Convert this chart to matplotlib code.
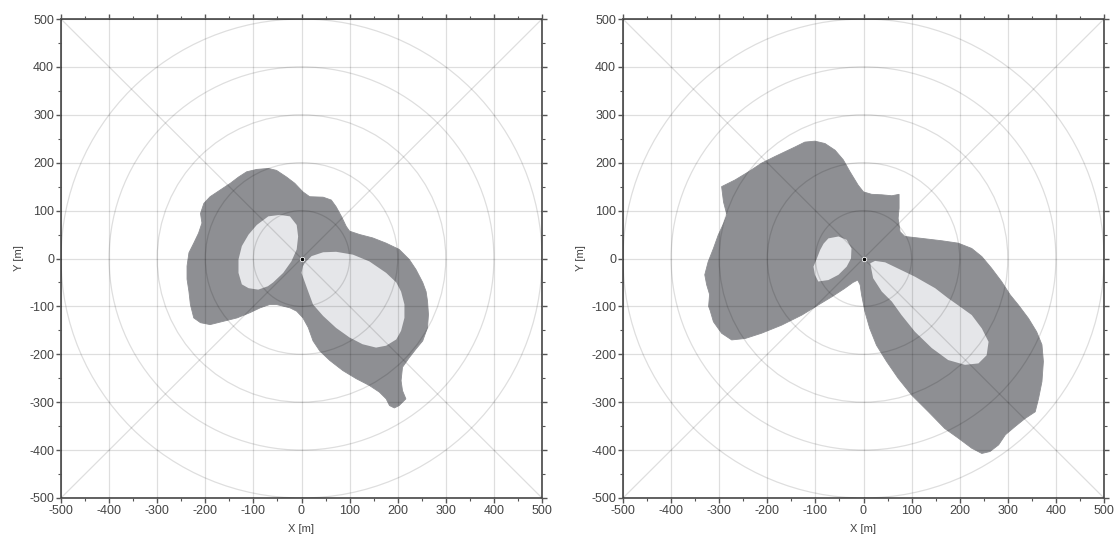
import numpy as np
import matplotlib
matplotlib.use("Agg")
import matplotlib.pyplot as plt
from matplotlib.patches import Circle

plt.rcParams['font.family'] = ['Liberation Sans', 'DejaVu Sans']

# ---- Data (metres) ----
left_outer_x = [-69, -52, -31, -14, 3, 17, 45, 62, 72, 83, 93, 100, 121, 148, 176, 203, 224, 238, 252, 259, 262, 264, 262, 252, 238, 224, 210, 207, 210, 217, 203, 193, 183, 176, 162, 141, 114, 86, 59, 38, 24, 14, 3, -10, -24, -52, -66, -86, -107, -134, -162, -190, -210, -224, -231, -234, -238, -238, -234, -224, -214, -207, -210, -203, -190, -169, -148, -131, -114, -93]
left_outer_y = [188, 184, 170, 157, 139, 129, 128, 122, 108, 88, 67, 57, 50, 43, 32, 19, -2, -23, -50, -69, -89, -117, -144, -172, -189, -207, -227, -255, -276, -293, -307, -312, -307, -293, -279, -265, -251, -234, -213, -193, -172, -144, -124, -110, -103, -96, -96, -103, -113, -124, -131, -138, -134, -124, -96, -69, -43, -16, 12, 32, 53, 74, 94, 115, 129, 143, 157, 170, 181, 186]
left_hole1_x = [-45, -69, -93, -110, -124, -131, -131, -124, -110, -90, -70, -59, -38, -21, -10, -7, -10, -24]
left_hole1_y = [91, 88, 70, 50, 26, -2, -30, -54, -62, -65, -58, -50, -30, -6, 19, 46, 70, 88]
left_hole2_x = [3, 7, 21, 45, 72, 107, 141, 176, 197, 207, 214, 214, 207, 197, 176, 155, 127, 100, 72, 45, 24, 14, 0]
left_hole2_y = [-16, -9, 5, 13, 14, 8, -6, -30, -50, -69, -96, -124, -151, -169, -182, -186, -179, -165, -145, -120, -96, -69, -30]

right_outer_x = [-295, -267, -239, -212, -184, -163, -142, -122, -101, -80, -59, -42, -28, -11, 0, 17, 38, 59, 74, 74, 72, 76, 86, 121, 163, 197, 225, 246, 266, 287, 305, 322, 343, 360, 371, 374, 371, 364, 357, 336, 315, 295, 281, 263, 246, 225, 197, 169, 135, 100, 72, 48, 27, 13, 3, -4, -7, -12, -22, -40, -66, -94, -128, -170, -212, -246, -274, -295, -312, -319, -322, -320, -326, -330, -323, -312, -302, -291, -284, -291]
right_outer_y = [150, 164, 181, 199, 213, 223, 233, 243, 245, 240, 226, 206, 181, 153, 139, 134, 133, 131, 134, 105, 84, 56, 46, 42, 37, 32, 21, 4, -20, -48, -76, -97, -125, -153, -180, -215, -257, -292, -320, -334, -351, -368, -389, -403, -407, -396, -375, -355, -320, -285, -250, -215, -181, -146, -111, -76, -55, -45, -50, -63, -80, -97, -118, -139, -156, -167, -170, -156, -132, -108, -100, -75, -55, -34, -7, 21, 49, 73, 91, 118]
right_hole1_x = [-73, -52, -35, -25, -26, -35, -52, -73, -94, -101, -104, -97, -90, -83]
right_hole1_y = [42, 46, 39, 21, 0, -17, -34, -45, -48, -34, -17, 0, 18, 31]
right_hole2_x = [14, 24, 45, 72, 107, 149, 176, 200, 225, 246, 260, 256, 239, 211, 176, 142, 107, 79, 59, 38, 20]
right_hole2_y = [-10, -5, -8, -21, -38, -62, -83, -100, -118, -146, -174, -202, -219, -222, -212, -187, -153, -118, -90, -69, -41]

ticks = [-500, -400, -300, -200, -100, 0, 100, 200, 300, 400, 500]
circle_radii = [100, 200, 300, 400, 500]

DARK = "#8e8f93"
LIGHT = "#e5e6e9"
LINE = (0, 0, 0, 0.13)

fig = plt.figure(figsize=(11.15, 5.36), dpi=100)
positions = [[61/1115, 38/536, 481/1115, 479/536], [623/1115, 38/536, 481/1115, 479/536]]
panels = [
    (left_outer_x, left_outer_y, [(left_hole1_x, left_hole1_y), (left_hole2_x, left_hole2_y)]),
    (right_outer_x, right_outer_y, [(right_hole1_x, right_hole1_y), (right_hole2_x, right_hole2_y)]),
]

for pos, (ox, oy, holes) in zip(positions, panels):
    ax = fig.add_axes(pos)
    ax.set_xlim(-500, 500)
    ax.set_ylim(-500, 500)
    ax.fill(ox, oy, color=DARK, lw=0.6, ec=DARK, zorder=1)
    for hx, hy in holes:
        ax.fill(hx, hy, color=LIGHT, lw=0, zorder=2)
    for t in ticks:
        ax.axvline(t, color=LINE, lw=0.9, zorder=3)
        ax.axhline(t, color=LINE, lw=0.9, zorder=3)
    for r in circle_radii:
        ax.add_patch(Circle((0, 0), r, fill=False, ec=LINE, lw=0.9, zorder=3))
    ax.plot([-500, 500], [-500, 500], color=LINE, lw=0.9, zorder=3)
    ax.plot([-500, 500], [500, -500], color=LINE, lw=0.9, zorder=3)
    ax.plot([0], [0], marker='o', ms=3.2, color='black', mec='white', mew=0.6, zorder=5)
    ax.set_xticks(ticks)
    ax.set_yticks(ticks)
    ax.set_xticks(np.arange(-450, 500, 100), minor=True)
    ax.set_yticks(np.arange(-450, 500, 100), minor=True)
    ax.tick_params(which='both', direction='out', top=True, right=True, color='#555555',
                   labelsize=9, labelcolor='#444444', pad=1.5)
    ax.tick_params(which='major', length=3.5, width=1)
    ax.tick_params(which='minor', length=2, width=0.8)
    ax.set_xticklabels([str(t) for t in ticks])
    ax.set_yticklabels([str(t) for t in ticks])
    for s in ax.spines.values():
        s.set_color('#555555')
        s.set_linewidth(1.3)
    ax.set_xlabel('X [m]', fontsize=8, color='#444444', labelpad=5)
    ax.set_ylabel('Y [m]', fontsize=8, color='#444444', labelpad=4)

fig.savefig('out.png', dpi=100)
